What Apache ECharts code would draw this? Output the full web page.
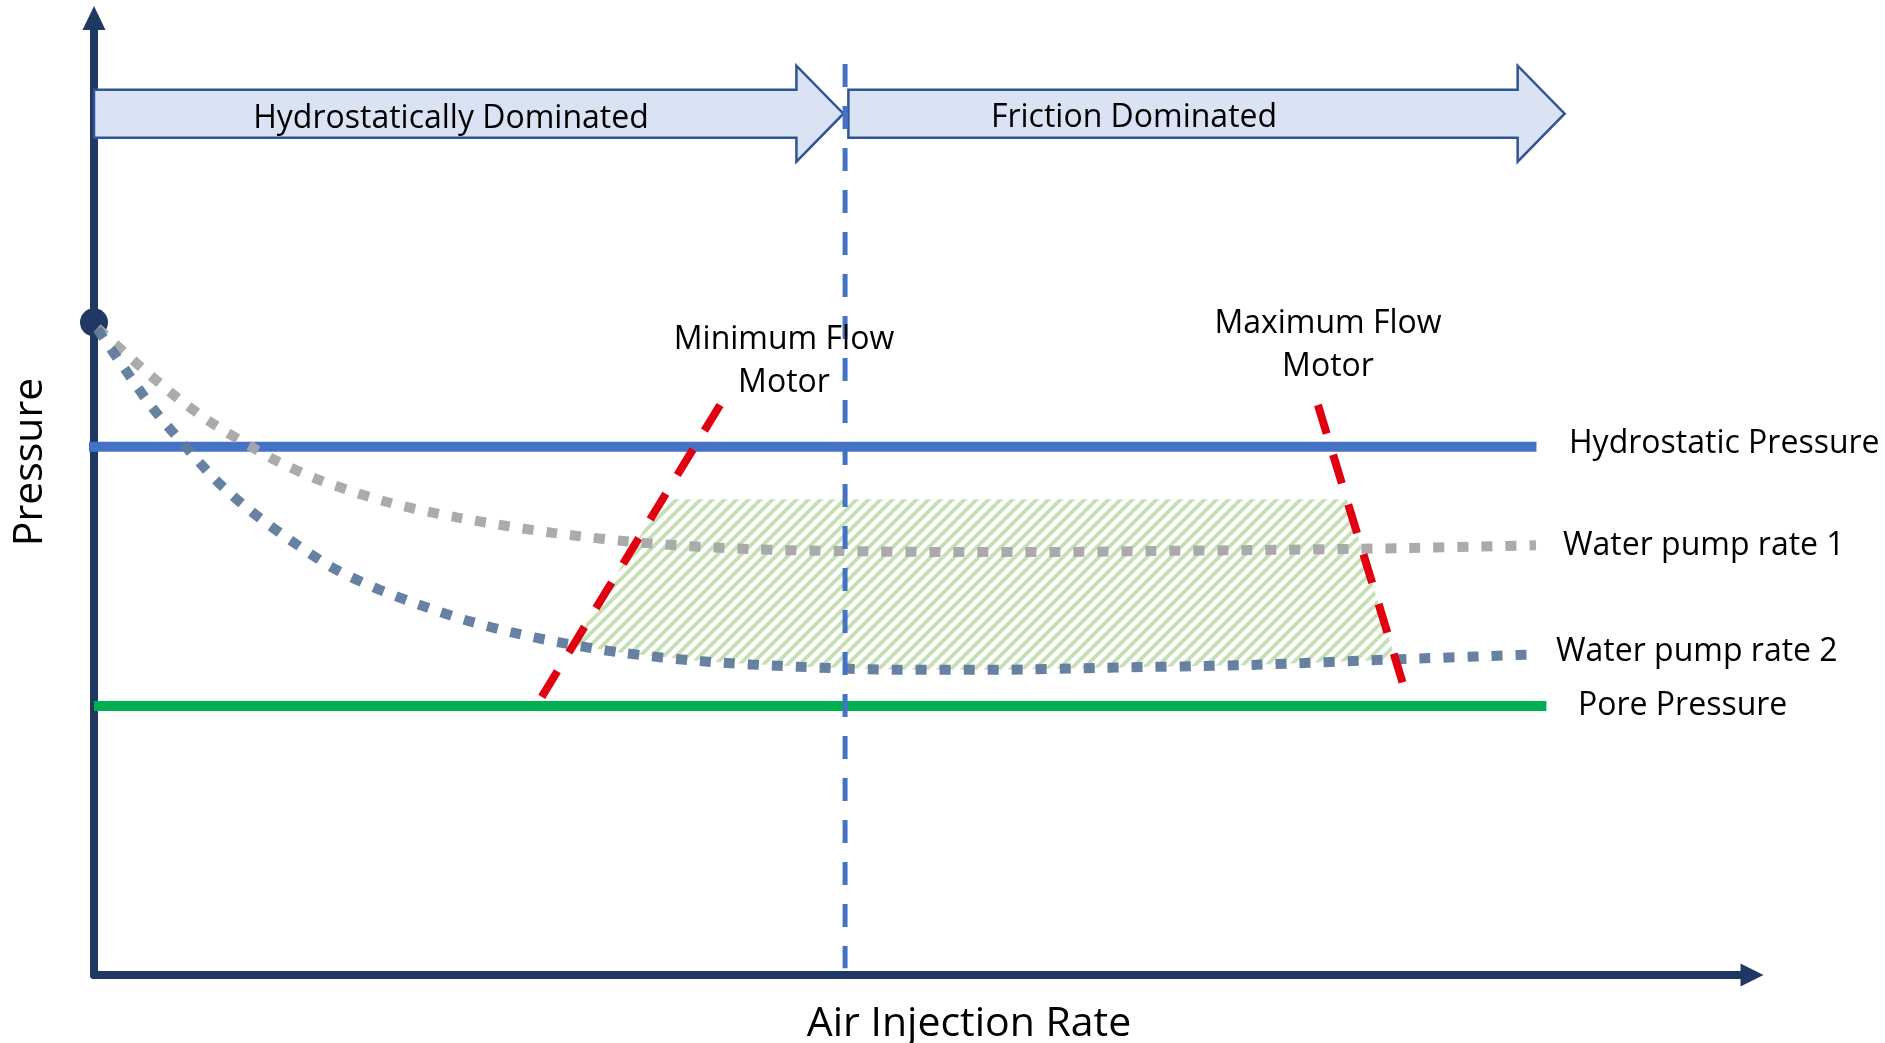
<!DOCTYPE html>
<html>
<head>
<meta charset="utf-8">
<script src="https://cdn.jsdelivr.net/npm/echarts@6/dist/echarts.min.js"></script>
<style>
  html, body { margin: 0; padding: 0; background: #ffffff; }
  #chart { width: 1885px; height: 1043px; }
</style>
</head>
<body>
<div id="chart"></div>
<script>
// ---- Conceptual data (arbitrary units: air injection rate 0-100, pressure 0-100) ----
const regimeNames = ['Hydrostatically Dominated', 'Friction Dominated'];
const regimeSpans = [[0, 45.2], [45.5, 88.7]];          // start / tip of each regime arrow
const transitionRate = 45.3;                             // where friction takes over
const transitionSpan = [95.2, 0.7];                      // pressure extent of the divider

const hydrostaticPressure = 55.2;
const hydrostaticSpan = [-0.6, 87.0];
const porePressure = 28.1;
const poreSpan = [0, 87.6];
const startPressure = 68.2;                              // pressure with no air injected

const pumpRate1 = [
  [0.2, 67.6], [2.65, 63.8], [4.89, 60.5], [7.18, 57.6], [9.59, 55.1], [11.04, 53.7],
  [13.63, 51.7], [17.73, 49.4], [21.95, 47.8], [27.68, 46.2], [33.53, 45.1], [39.56, 44.5],
  [45.3, 44.3], [51.63, 44.2], [57.66, 44.2], [63.69, 44.3], [69.72, 44.4], [78.77, 44.6],
  [86.97, 44.9]
];
const pumpRate2 = [
  [0.2, 67.5], [1.87, 63.3], [3.56, 59.2], [5.43, 55.4], [7.42, 51.6], [9.59, 48.3],
  [11.88, 45.4], [14.35, 42.6], [16.89, 40.5], [19.6, 38.7], [22.38, 37.1], [25.21, 35.8],
  [27.93, 34.8], [31.73, 33.7], [36.55, 32.8], [42.58, 32.2], [48.61, 31.9], [54.64, 31.9],
  [60.68, 32.1], [69.72, 32.4], [78.77, 33.0], [86.97, 33.5]
];

const minFlowMotor = [[37.76, 59.56], [26.96, 28.94]];
const maxFlowMotor = [[73.82, 59.56], [78.95, 30.41]];
const windowTop = 49.7;                                  // upper pressure bound of the operating window

// ---- Operating window geometry (bounded by both motor limits, the top bound and pump rate 2) ----
function xOnLineAtY(line, y) {
  const [[x1, y1], [x2, y2]] = line;
  return x1 + (y - y1) * (x2 - x1) / (y2 - y1);
}
function curveY(curve, x) {
  for (let i = 1; i < curve.length; i++) {
    if (x <= curve[i][0]) {
      const [x1, y1] = curve[i - 1], [x2, y2] = curve[i];
      return y1 + (x - x1) * (y2 - y1) / (x2 - x1);
    }
  }
  return curve[curve.length - 1][1];
}
function lineMeetsCurve(line, curve) {
  const [[x1, y1], [x2, y2]] = line;
  let prev = null;
  const n = 2000;
  for (let i = 0; i <= n; i++) {
    const t = i / n;
    const x = x1 + t * (x2 - x1), y = y1 + t * (y2 - y1);
    const d = y - curveY(curve, x);
    if (prev !== null && Math.sign(d) !== Math.sign(prev)) return [x, y];
    prev = d;
  }
  return [x2, y2];
}
const windowPolygon = (() => {
  const tl = [xOnLineAtY(minFlowMotor, windowTop), windowTop];
  const tr = [xOnLineAtY(maxFlowMotor, windowTop), windowTop];
  const br = lineMeetsCurve(maxFlowMotor, pumpRate2);
  const bl = lineMeetsCurve(minFlowMotor, pumpRate2);
  const bottom = pumpRate2.filter(p => p[0] > bl[0] && p[0] < br[0]).reverse();
  return [tl, tr, br, ...bottom, bl];
})();

// Diagonal hatch tile for the operating window
function hatchPattern() {
  const w = 12, h = 12;
  const c = document.createElement('canvas');
  c.width = w; c.height = h;
  const g = c.getContext('2d');
  g.strokeStyle = '#C5E0B4';
  g.lineWidth = 3.8;
  g.beginPath();
  for (let k = -1; k <= 1; k++) {
    g.moveTo(k * w - w * 0.5, h * 1.5);
    g.lineTo(k * w + w * 1.5, -h * 0.5);
  }
  g.stroke();
  return c;
}

const NAVY = '#1F3864';
const FONT = '"Open Sans", "Noto Sans", sans-serif';

const chart = echarts.init(document.getElementById('chart'), null, { renderer: 'canvas' });

const option = {
  animation: false,
  backgroundColor: '#ffffff',
  grid: { left: 94, right: 133, top: 18, bottom: 68 },
  xAxis: {
    type: 'value', min: 0, max: 100,
    axisLine: { show: true, symbol: ['none', 'triangle'], symbolSize: [23, 23], symbolOffset: [0, 0],
      lineStyle: { color: NAVY, width: 8 } },
    axisTick: { show: false }, axisLabel: { show: false }, splitLine: { show: false }
  },
  yAxis: {
    type: 'value', min: 0, max: 100,
    axisLine: { show: true, onZero: false, symbol: ['none', 'triangle'], symbolSize: [23, 24], symbolOffset: [0, 0],
      lineStyle: { color: NAVY, width: 8 } },
    axisTick: { show: false }, axisLabel: { show: false }, splitLine: { show: false }
  },
  series: [
    {
      name: 'Operating window',
      type: 'custom',
      coordinateSystem: 'cartesian2d',
      data: [0],
      z: 1,
      renderItem: (params, api) => ({
        type: 'polygon',
        shape: { points: windowPolygon.map(p => api.coord(p)) },
        style: { fill: { image: hatchPattern(), repeat: 'repeat' }, stroke: null }
      })
    },
    {
      name: 'Hydrostatic Pressure',
      type: 'line', clip: false, showSymbol: false, z: 2,
      data: hydrostaticSpan.map(x => [x, hydrostaticPressure]),
      lineStyle: { color: '#4472C4', width: 10, cap: 'butt' }
    },
    {
      name: 'Pore Pressure',
      type: 'line', clip: false, showSymbol: false, z: 2,
      data: poreSpan.map(x => [x, porePressure]),
      lineStyle: { color: '#00B050', width: 10, cap: 'butt' }
    },
    {
      name: 'Start',
      type: 'scatter', z: 3,
      data: [[0, startPressure]],
      symbolSize: 28,
      itemStyle: { color: NAVY, opacity: 1 }
    },
    {
      name: 'Water pump rate 1',
      type: 'line', clip: false, showSymbol: false, smooth: 0.3, z: 4,
      data: pumpRate1,
      lineStyle: { color: '#A6A6A6', width: 10, type: [11, 13], cap: 'butt', opacity: 0.95 }
    },
    {
      name: 'Water pump rate 2',
      type: 'line', clip: false, showSymbol: false, smooth: 0.3, z: 4,
      data: pumpRate2,
      lineStyle: { color: '#5F7A9D', width: 10, type: [11, 13], cap: 'butt', opacity: 0.95 }
    },
    {
      name: 'Minimum Flow Motor',
      type: 'line', clip: false, showSymbol: false, z: 5,
      data: minFlowMotor,
      lineStyle: { color: '#E00012', width: 8, type: [30, 22], cap: 'butt' }
    },
    {
      name: 'Maximum Flow Motor',
      type: 'line', clip: false, showSymbol: false, z: 5,
      data: maxFlowMotor,
      lineStyle: { color: '#E00012', width: 8, type: [30, 22], cap: 'butt' }
    },
    {
      name: 'Regimes',
      type: 'custom',
      coordinateSystem: 'cartesian2d',
      data: regimeSpans,
      z: 6,
      renderItem: (params, api) => {
        const bannerLevel = 90;
        const start = api.coord([api.value(0), bannerLevel]);
        const tip = api.coord([api.value(1), bannerLevel]);
        const cy = start[1], head = 47, bh = 24, hh = 48;
        const base = tip[0] - head;
        return {
          type: 'polygon',
          shape: { points: [
            [start[0], cy - bh], [base, cy - bh], [base, cy - hh], [tip[0], cy],
            [base, cy + hh], [base, cy + bh], [start[0], cy + bh]
          ] },
          style: { fill: '#DAE3F3', stroke: '#2F5597', lineWidth: 2.5, lineJoin: 'miter' }
        };
      }
    },
    {
      name: 'Transition',
      type: 'line', clip: false, showSymbol: false, z: 7,
      data: transitionSpan.map(y => [transitionRate, y]),
      lineStyle: { color: '#4472C4', width: 5, type: [23, 19], cap: 'butt' }
    }
  ],
  graphic: [
    { type: 'text', x: 451, y: 118.5, z: 20, style: { text: regimeNames[0], font: '32px ' + FONT, fill: '#000', align: 'center', verticalAlign: 'middle' } },
    { type: 'text', x: 1134, y: 117.5, z: 20, style: { text: regimeNames[1], font: '32px ' + FONT, fill: '#000', align: 'center', verticalAlign: 'middle' } },
    { type: 'text', x: 784, y: 361.5, z: 20, style: { text: 'Minimum Flow\nMotor', font: '32px ' + FONT, lineHeight: 43, fill: '#000', align: 'center', verticalAlign: 'middle' } },
    { type: 'text', x: 1328, y: 345.5, z: 20, style: { text: 'Maximum Flow\nMotor', font: '32px ' + FONT, lineHeight: 43, fill: '#000', align: 'center', verticalAlign: 'middle' } },
    { type: 'text', x: 1569, y: 443.5, z: 20, style: { text: 'Hydrostatic Pressure', font: '32px ' + FONT, fill: '#000', align: 'left', verticalAlign: 'middle' } },
    { type: 'text', x: 1563, y: 545.5, z: 20, style: { text: 'Water pump rate 1', font: '32px ' + FONT, fill: '#000', align: 'left', verticalAlign: 'middle' } },
    { type: 'text', x: 1556, y: 651.5, z: 20, style: { text: 'Water pump rate 2', font: '32px ' + FONT, fill: '#000', align: 'left', verticalAlign: 'middle' } },
    { type: 'text', x: 1578, y: 705.5, z: 20, style: { text: 'Pore Pressure', font: '32px ' + FONT, fill: '#000', align: 'left', verticalAlign: 'middle' } },
    { type: 'text', x: 969, y: 1024, z: 20, style: { text: 'Air Injection Rate', font: '41px ' + FONT, fill: '#000', align: 'center', verticalAlign: 'middle' } },
    { type: 'text', x: 30, y: 462, rotation: Math.PI / 2, z: 20, style: { text: 'Pressure', font: '41px ' + FONT, fill: '#000', align: 'center', verticalAlign: 'middle' } }
  ]
};

chart.setOption(option);
</script>
</body>
</html>
